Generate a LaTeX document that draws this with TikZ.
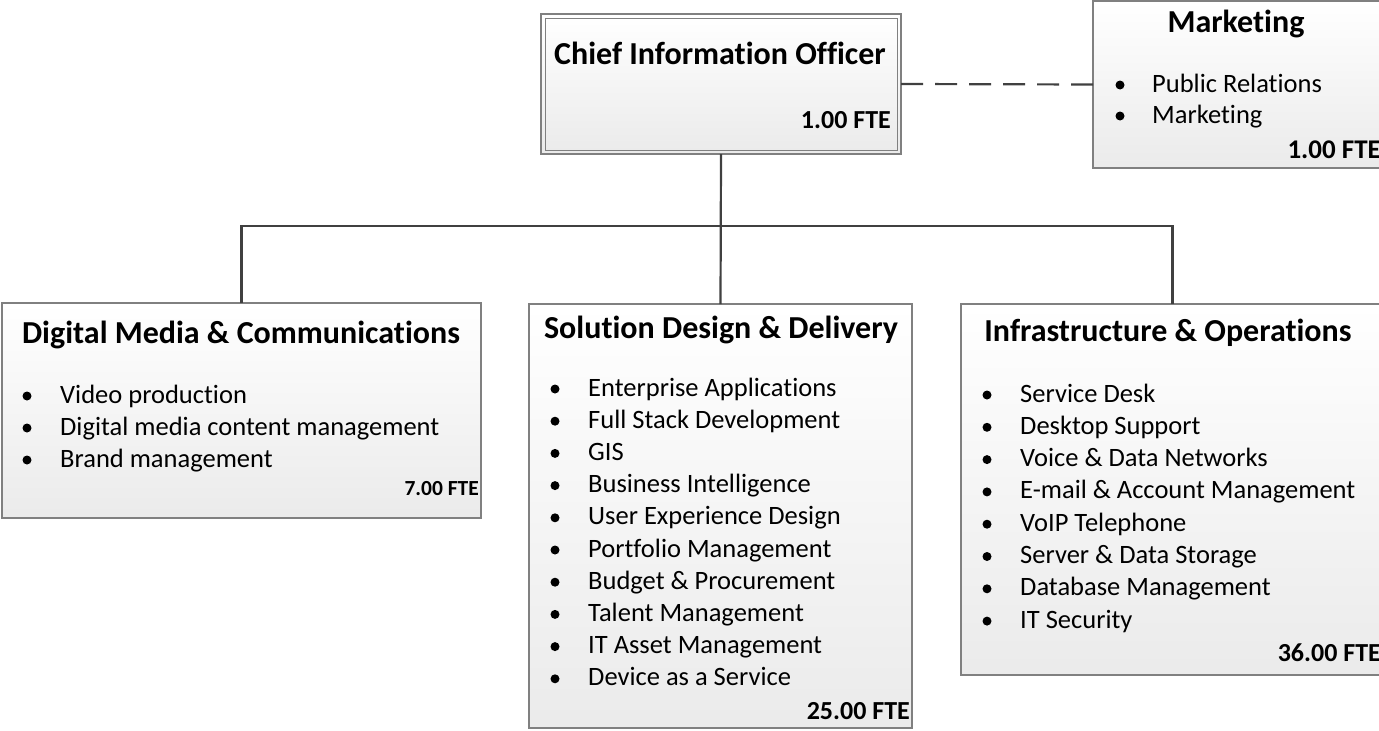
\documentclass[tikz,border=0pt]{standalone}
\usepackage{fontspec}
\setmainfont{Carlito}[Ligatures=NoCommon]
\usetikzlibrary{calc}
\definecolor{linegray}{HTML}{404040}
\definecolor{boxgray}{HTML}{808080}

\begin{document}
\begin{tikzpicture}[x=1pt,y=-1pt,
  unit/.style={draw=boxgray, line width=1.2pt, inner sep=0pt, outer sep=0pt,
    top color=white, bottom color=black!8, anchor=north west},
  link/.style={draw=linegray, line width=2.2pt},
  title/.style={font=\fontsize{32}{38}\selectfont\bfseries, anchor=base, inner sep=0pt},
  item/.style={font=\fontsize{26.5}{32}\selectfont, anchor=base west, inner sep=0pt},
  fte/.style={font=\fontsize{26}{30}\selectfont\bfseries, anchor=base east, inner sep=0pt}]
\useasboundingbox (0,0) rectangle (1379,731);
\clip (0,0) rectangle (1379,731);

% boxes
\node[unit, minimum width=360, minimum height=140] (cio) at (541,14) {};
\draw[boxgray, line width=1pt] ($(cio.north west)+(4,4)$) rectangle ($(cio.south east)+(-4,-4)$);
\node[unit, minimum width=291, minimum height=167] (mkt) at (1093,1) {};
\node[unit, minimum width=479, minimum height=215] (dmc) at (2,303) {};
\node[unit, minimum width=383, minimum height=424] (sdd) at (529,304) {};
\node[unit, minimum width=423, minimum height=371] (ino) at (961,304) {};

% connectors
\coordinate (bus) at (721,226);
\draw[link] (cio.south) -- (sdd.north);
\draw[link] (dmc.north) |- (bus) -| (ino.north);
\draw[link, dash pattern=on 22pt off 12pt] (cio.east) -- (mkt.west);

% chief information officer
\node[title] (cio-title) at (720,64) {Chief Information Officer};
\node[fte] (cio-fte) at (891,128) {1.00 FTE};

% marketing
\node[title] (mkt-title) at (1236,32) {Marketing};
\foreach \txt [count=\i from 0] in {Public Relations, Marketing}{
  \fill (1120,{92+31*\i-7}) circle (4.5pt);
  \node[item] (mkt-\i) at (1152,{92+31*\i}) {\txt};
}
\node[fte, font=\fontsize{27}{30}\selectfont\bfseries] (mkt-fte) at (1381,158) {1.00 FTE};

% digital media
\node[title] (dmc-title) at (241,343) {Digital Media \& Communications};
\foreach \txt [count=\i from 0] in {Video production, Digital media content management, Brand management}{
  \fill (27,{403+32*\i-7}) circle (4.5pt);
  \node[item] (dmc-\i) at (60,{403+32*\i}) {\txt};
}
\node[fte, font=\fontsize{21.5}{24}\selectfont\bfseries] (dmc-fte) at (479,495) {7.00 FTE};

% solution design
\node[title] (sdd-title) at (721,338) {Solution Design \& Delivery};
\foreach \txt [count=\i from 0] in {Enterprise Applications, Full Stack Development, GIS,
    Business Intelligence, User Experience Design, Portfolio Management,
    Budget \& Procurement, Talent Management, IT Asset Management, Device as a Service}{
  \fill (555,{396+32.2*\i-7}) circle (4.5pt);
  \node[item] (sdd-\i) at (588,{396+32.2*\i}) {\txt};
}
\node[fte] (sdd-fte) at (910,719) {25.00 FTE};

% infrastructure
\node[title] (ino-title) at (1168,341) {Infrastructure \& Operations};
\foreach \txt [count=\i from 0] in {Service Desk, Desktop Support, Voice \& Data Networks,
    E-mail \& Account Management, VoIP Telephone, Server \& Data Storage,
    Database Management, IT Security}{
  \fill (987,{402+32.3*\i-7}) circle (4.5pt);
  \node[item] (ino-\i) at (1020,{402+32.3*\i}) {\txt};
}
\node[fte] (ino-fte) at (1381,661) {36.00 FTE};
\end{tikzpicture}
\end{document}
